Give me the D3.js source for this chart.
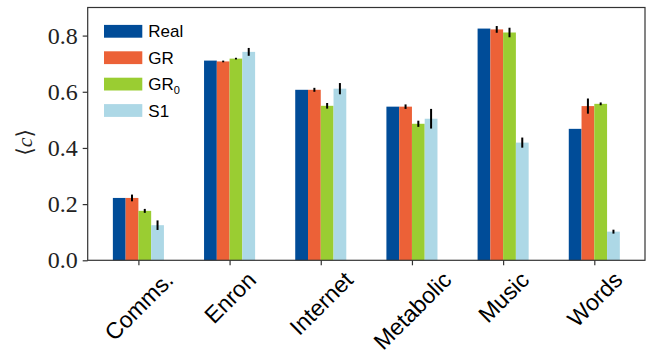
<!DOCTYPE html>
<html>
<head>
<meta charset="utf-8">
<script src="https://cdn.jsdelivr.net/npm/d3@7"></script>
<style>
  body { margin: 0; background: #fff; }
  svg { display: block; }
</style>
</head>
<body>
<div id="chart"></div>
<script>
var categories = ["Comms.", "Enron", "Internet", "Metabolic", "Music", "Words"];
var seriesNames = ["Real", "GR", "GR0", "S1"];
var seriesColors = ["#004c98", "#ec6137", "#9acd32", "#add8e6"];

var realVals = [0.222, 0.711, 0.607, 0.547, 0.825, 0.468];
var grVals   = [0.222, 0.708, 0.607, 0.547, 0.822, 0.549];
var gr0Vals  = [0.176, 0.718, 0.550, 0.486, 0.811, 0.557];
var s1Vals   = [0.125, 0.742, 0.611, 0.504, 0.419, 0.102];

var realErr = [0, 0, 0, 0, 0, 0];
var grErr   = [0.012, 0.003, 0.007, 0.008, 0.012, 0.027];
var gr0Err  = [0.007, 0.003, 0.010, 0.011, 0.017, 0.005];
var s1Err   = [0.017, 0.014, 0.020, 0.035, 0.018, 0.007];

var yTicks = [0.0, 0.2, 0.4, 0.6, 0.8];

var values = [realVals, grVals, gr0Vals, s1Vals];
var errors = [realErr, grErr, gr0Err, s1Err];

var SERIF = "Liberation Serif, DejaVu Serif, serif";
var SANS = "Liberation Sans, Arial, sans-serif";

var W = 647, H = 353;
var margin = {top: 7.5, right: 2, bottom: 92.7, left: 87.7},
    width = W - margin.left - margin.right,
    height = H - margin.top - margin.bottom;

var barW = 0.14;

var svg = d3.select("#chart").append("svg")
    .attr("width", W)
    .attr("height", H);

var g = svg.append("g")
    .attr("transform", "translate(" + margin.left + "," + margin.top + ")");

var x = d3.scaleLinear()
    .domain([-0.556, categories.length - 1 + 0.556])
    .range([0, width]);

var y = d3.scaleLinear()
    .domain([0, 0.9])
    .range([height, 0]);

// bars
seriesNames.forEach(function(name, s) {
  var off = (s - 1.5) * barW;
  var grp = g.append("g").attr("class", "series");
  grp.selectAll("rect")
    .data(values[s])
    .enter().append("rect")
      .attr("x", function(d, i) { return x(i + off - barW / 2); })
      .attr("width", function() { return x(barW) - x(0); })
      .attr("y", function(d) { return y(d); })
      .attr("height", function(d) { return y(0) - y(d); })
      .attr("fill", seriesColors[s]);
});

// error bars
seriesNames.forEach(function(name, s) {
  var off = (s - 1.5) * barW;
  g.append("g").selectAll("line")
    .data(values[s].map(function(v, i) { return {v: v, e: errors[s][i], i: i}; })
      .filter(function(d) { return d.e > 0; }))
    .enter().append("line")
      .attr("x1", function(d) { return x(d.i + off); })
      .attr("x2", function(d) { return x(d.i + off); })
      .attr("y1", function(d) { return y(d.v - d.e); })
      .attr("y2", function(d) { return y(d.v + d.e); })
      .attr("stroke", "#000")
      .attr("stroke-width", 2);
});

// frame
g.append("rect")
    .attr("x", 0).attr("y", 0)
    .attr("width", width).attr("height", height)
    .attr("fill", "none")
    .attr("stroke", "#333")
    .attr("stroke-width", 1.2);

// y axis
var yAxis = g.append("g")
    .call(d3.axisLeft(y).tickValues(yTicks).tickSize(5).tickPadding(5)
      .tickFormat(d3.format(".1f")));
yAxis.attr("font-family", SERIF).attr("font-size", 24);
yAxis.select(".domain").remove();
yAxis.selectAll(".tick line").attr("stroke", "#333").attr("stroke-width", 1.2);
yAxis.selectAll(".tick text")
    .style("font-family", SERIF)
    .style("font-size", "24px")
    .attr("fill", "#222");

// x axis
var xAxis = g.append("g")
    .attr("transform", "translate(0," + height + ")")
    .call(d3.axisBottom(x).tickValues(d3.range(categories.length)).tickSize(5)
      .tickFormat(function(i) { return categories[i]; }));
xAxis.attr("font-family", SANS).attr("font-size", 23);
xAxis.select(".domain").remove();
xAxis.selectAll(".tick line").attr("stroke", "#333").attr("stroke-width", 1.2);
xAxis.selectAll(".tick text")
    .style("font-family", SANS)
    .style("font-size", "23px")
    .attr("fill", "#000")
    .attr("text-anchor", "middle")
    .attr("dy", null)
    .attr("dominant-baseline", "central")
    .attr("y", 0)
    .each(function() {
      var w = this.getComputedTextLength();
      var h = 17;
      var half = (w + h) / (2 * Math.SQRT2);
      d3.select(this).attr("transform", "translate(0," + (9.5 + half) + ") rotate(-45)");
    });

// y label
svg.append("text")
    .attr("transform", "translate(32," + (margin.top + y(0.42)) + ") rotate(-90)")
    .attr("text-anchor", "middle")
    .style("font-family", SERIF)
    .style("font-size", "22px")
    .attr("fill", "#222")
    .html("\u27E8<tspan font-style='italic'>c</tspan>\u27E9");

// legend
var legend = g.append("g")
    .attr("transform", "translate(" + (104 - margin.left) + "," + (31.3 - margin.top) + ")");
seriesNames.forEach(function(name, s) {
  var row = legend.append("g").attr("transform", "translate(0," + (s * 26.4) + ")");
  row.append("rect")
    .attr("x", 0).attr("y", -6.4)
    .attr("width", 38.3).attr("height", 12.8)
    .attr("fill", seriesColors[s]);
  var t = row.append("text")
    .attr("x", 44.3).attr("y", 6)
    .style("font-family", SANS)
    .style("font-size", "17px")
    .attr("fill", "#000");
  if (name === "GR0") {
    t.append("tspan").text("GR");
    t.append("tspan").style("font-size", "11px").attr("dy", 4).text("0");
  } else {
    t.text(name);
  }
});
</script>
</body>
</html>
